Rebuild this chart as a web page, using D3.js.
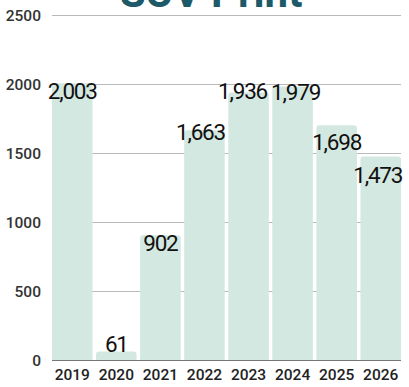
<!DOCTYPE html>
<html>
<head>
<meta charset="utf-8">
<script src="https://cdn.jsdelivr.net/npm/d3@7"></script>
<style>
  html, body { margin: 0; padding: 0; background: #fff; }
  svg { display: block; font-family: Roboto, "Noto Sans", sans-serif; }
</style>
</head>
<body>
<svg id="chart" width="409" height="387"></svg>
<script>
// Yearly values
const years = ["2019", "2020", "2021", "2022", "2023", "2024", "2025", "2026"];
const values = [2003, 61, 902, 1663, 1936, 1979, 1698, 1473];
const yTicks = [0, 500, 1000, 1500, 2000, 2500];
const title = "SUV Print";

const svg = d3.select("#chart");

const x = d3.scaleBand().domain(years).range([52, 401]).paddingInner(0.08).paddingOuter(0);
const y = d3.scaleLinear().domain([0, 2500]).range([360, 14.5]);

// Title (sits partly above the top edge)
svg.append("text")
  .attr("x", 211).attr("y", 7)
  .attr("text-anchor", "middle")
  .attr("font-size", 42).attr("font-weight", 700)
  .attr("fill", "#1d5a69")
  .text(title);

// Grid lines
svg.append("g").selectAll("line").data(yTicks).join("line")
  .attr("x1", 52).attr("x2", 401)
  .attr("y1", d => Math.round(y(d)) + 0.5).attr("y2", d => Math.round(y(d)) + 0.5)
  .attr("stroke", d => d === 0 ? "#777" : "#b9b9b9")
  .attr("stroke-width", 1);

// Y-axis labels
const yAxis = d3.axisLeft(y).tickValues(yTicks).tickSize(0).tickPadding(0).tickFormat(d3.format("d"));
const yg = svg.append("g").attr("transform", "translate(41,0)").call(yAxis);
yg.select(".domain").remove();
yg.selectAll("text")
  .attr("font-family", "Roboto, sans-serif")
  .attr("font-size", 15.5).attr("font-weight", 500)
  .attr("fill", "#333").attr("dy", "0.36em");

// Bars with rounded tops
const r = 3;
function barPath(d, i) {
  const x0 = x(years[i]), w = x.bandwidth();
  const top = y(d), bottom = y(0);
  const rr = Math.min(r, (bottom - top));
  return `M${x0},${bottom} L${x0},${top + rr} Q${x0},${top} ${x0 + rr},${top}` +
         ` L${x0 + w - rr},${top} Q${x0 + w},${top} ${x0 + w},${top + rr} L${x0 + w},${bottom} Z`;
}
svg.append("g").selectAll("path").data(values).join("path")
  .attr("d", barPath)
  .attr("fill", "#d3e8e0");

// X-axis labels
const xAxis = d3.axisBottom(x).tickSize(0).tickPadding(0);
const xg = svg.append("g").attr("transform", "translate(0,380)").call(xAxis);
xg.select(".domain").remove();
xg.selectAll("text")
  .attr("font-family", "Roboto, sans-serif")
  .attr("font-size", 15.5).attr("font-weight", 500)
  .attr("fill", "#222").attr("dy", 0).attr("y", 0);

// Value labels: inside the bar top, above it when the bar is too short
const fmt = d3.format(",");
const labelDy = { "2022": -6, "2023": -9, "2024": -3, "2025": 9, "2026": 11 };
const labelDx = { "2022": -4, "2023": -6, "2024": 3, "2026": -3 };
svg.append("g").selectAll("text").data(values).join("text")
  .attr("x", (d, i) => x(years[i]) + x.bandwidth() / 2 + (labelDx[years[i]] || 0))
  .attr("y", (d, i) => {
    const top = y(d);
    if (y(0) - top < 30) return top;
    return top + 16 + (labelDy[years[i]] || 0);
  })
  .attr("text-anchor", "middle")
  .attr("font-size", 22.5)
  .attr("letter-spacing", -1.2)
  .attr("fill", "#111")
  .text(d => fmt(d));
</script>
</body>
</html>
